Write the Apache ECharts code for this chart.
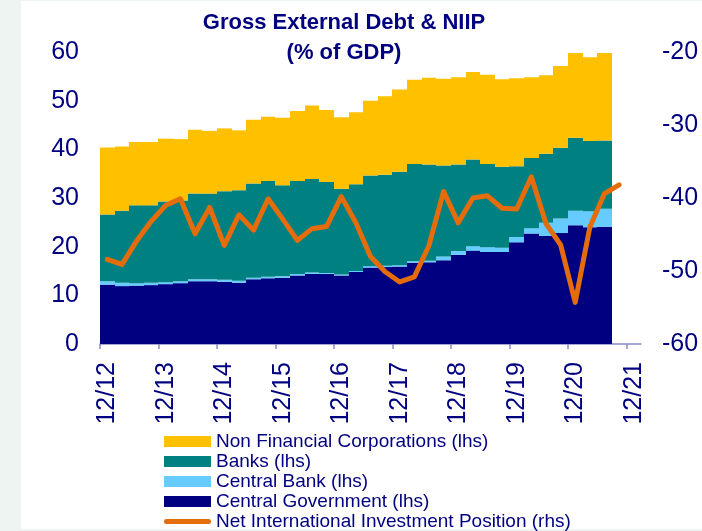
<!DOCTYPE html>
<html>
<head>
<meta charset="utf-8">
<script src="https://cdn.jsdelivr.net/npm/echarts@6/dist/echarts.min.js"></script>
<style>
html, body { margin: 0; padding: 0; background: #eef4f2; }
#chart { width: 702px; height: 531px; }
</style>
</head>
<body>
<div id="chart"></div>
<script>
// quarters on the x axis (12/12 .. 12/21)
const quarters = [
  '12/12', '3/13', '6/13', '9/13', '12/13', '3/14', '6/14', '9/14', '12/14',
  '3/15', '6/15', '9/15', '12/15', '3/16', '6/16', '9/16', '12/16',
  '3/17', '6/17', '9/17', '12/17', '3/18', '6/18', '9/18', '12/18',
  '3/19', '6/19', '9/19', '12/19', '3/20', '6/20', '9/20', '12/20',
  '3/21', '6/21', '9/21', '12/21'
]
const tickPositions = [0, 4, 8, 12, 16, 20, 24, 28, 32, 36]

// % of GDP, lhs
const centralGov = [12.2, 11.9, 12.0, 12.1, 12.3, 12.5, 12.9, 12.9, 12.8, 12.6, 13.3, 13.5, 13.6, 14.1, 14.4, 14.4, 14.1, 14.8,
  15.7, 15.8, 15.9, 16.7, 16.8, 17.2, 18.3, 19.2, 18.9, 18.9, 20.9, 22.7, 22.2, 22.8, 24.4, 24.0, 24.1]
const centralBank = [0.7, 0.7, 0.5, 0.5, 0.4, 0.4, 0.4, 0.4, 0.4, 0.4, 0.3, 0.3, 0.3, 0.3, 0.3, 0.2, 0.2, 0.2,
  0.3, 0.3, 0.3, 0.3, 0.3, 0.8, 0.8, 0.9, 1.0, 0.9, 1.1, 1.1, 2.7, 3.0, 3.0, 3.3, 3.7]
const banks = [13.7, 14.8, 16.0, 15.9, 16.6, 16.6, 17.6, 17.6, 18.2, 18.6, 19.4, 19.7, 18.7, 19.1, 19.2, 18.7, 17.6, 17.8,
  18.6, 18.7, 19.2, 20.0, 19.8, 18.7, 17.8, 17.8, 17.1, 16.6, 14.5, 14.4, 14.2, 14.5, 15.0, 14.4, 14.0]
const nonFinCorp = [13.8, 13.2, 13.0, 13.0, 12.9, 12.6, 13.1, 12.9, 12.9, 12.3, 13.1, 13.2, 13.9, 14.4, 15.1, 14.8, 14.7, 14.8,
  15.4, 16.1, 16.9, 17.3, 17.8, 17.8, 17.9, 18.0, 18.3, 18.0, 18.1, 16.6, 16.1, 16.8, 17.4, 17.2, 18.0]

// % of GDP, rhs
const niip = [-48.4, -49.1, -45.9, -43.2, -41.0, -40.1, -44.9, -41.3, -46.5, -42.3, -44.4, -40.1, -42.9, -45.8, -44.2, -43.9,
  -39.8, -43.4, -48.0, -50.1, -51.5, -50.8, -46.5, -39.1, -43.4, -40.0, -39.7, -41.4, -41.5, -37.1, -43.5, -46.4,
  -54.3, -44.0, -39.4, -38.2]

const navy = '#000080'
const axisColor = '#8a8ac8'
const orange = '#e46c0a'

// running bottoms of the stack
const zeros = centralGov.map(() => 0)
const addUp = (a, b) => a.map((v, i) => v + b[i])
const baseBank = addUp(centralGov, centralBank)
const baseNfc = addUp(baseBank, banks)

const chart = echarts.init(document.getElementById('chart'))

// stacked bars drawn edge to edge (bar series leave hairline gaps at 0% gap)
const stackLayer = (name, values, below, color) => ({
  name: name,
  type: 'custom',
  itemStyle: { color: color },
  encode: { x: 0, y: [1, 2] },
  data: values.map((v, i) => [i, below[i], below[i] + v]),
  renderItem: (params, api) => {
    const bottom = api.coord([api.value(0), api.value(1)])
    const top = api.coord([api.value(0), api.value(2)])
    const w = api.size([1, 0])[0]
    const x0 = Math.round(bottom[0] - w / 2)
    const x1 = Math.round(bottom[0] + w / 2)
    return {
      type: 'rect',
      shape: { x: x0, y: top[1], width: x1 - x0, height: bottom[1] - top[1] },
      style: { fill: color }
    }
  }
})

chart.setOption({
  animation: false,
  backgroundColor: '#eef4f2',
  graphic: [{
    type: 'rect',
    z: -1,
    shape: { x: 21, y: 1, width: 681, height: 528 },
    style: { fill: '#ffffff' }
  }, {
    // chart title
    type: 'text',
    x: 344,
    y: 8,
    style: {
      text: 'Gross External Debt & NIIP\n(% of GDP)',
      textAlign: 'center',
      textVerticalAlign: 'top',
      fill: navy,
      font: 'bold 22px "Liberation Sans"',
      lineHeight: 30
    }
  }],
  legend: {
    orient: 'vertical',
    left: 159,
    top: 427,
    height: 120,
    icon: 'rect',
    itemWidth: 47,
    itemHeight: 11,
    itemGap: 1,
    textStyle: { color: navy, fontSize: 19, fontFamily: 'Liberation Sans' },
    data: ['Non Financial Corporations (lhs)', 'Banks (lhs)', 'Central Bank (lhs)', 'Central Government (lhs)', {
      name: 'Net International Investment Position (rhs)',
      icon: 'path://M2.5,0H44.5A2.5,2.5,0,0,1,44.5,5H2.5A2.5,2.5,0,0,1,2.5,0Z'
    }]
  },
  grid: { left: 100, right: 61, top: 52, bottom: 187 },
  xAxis: [{
    type: 'category',
    data: quarters,
    boundaryGap: true,
    axisLine: { lineStyle: { color: axisColor, width: 1.5 } },
    axisTick: { show: false },
    splitLine: { show: false },
    axisLabel: {
      interval: 3, rotate: 90, margin: 18,
      color: navy, fontSize: 25, fontFamily: 'Liberation Sans'
    }
  }, {
    type: 'value',
    min: 0,
    max: quarters.length,
    position: 'bottom',
    axisLine: { show: false },
    axisLabel: { show: false },
    splitLine: { show: false },
    axisTick: { show: true, length: 5, customValues: tickPositions, lineStyle: { color: axisColor, width: 1.5 } }
  }],
  yAxis: [{
    type: 'value',
    min: 0, max: 60, interval: 10,
    axisLine: { show: false },
    axisTick: { show: false },
    splitLine: { show: false },
    axisLabel: { margin: 21, color: navy, fontSize: 25, fontFamily: 'Liberation Sans' }
  }, {
    type: 'value',
    position: 'right',
    min: -60, max: -20, interval: 10,
    axisLine: { show: false },
    axisTick: { show: false },
    splitLine: { show: false },
    axisLabel: { margin: 21, color: navy, fontSize: 25, fontFamily: 'Liberation Sans' }
  }],
  series: [
    stackLayer('Central Government (lhs)', centralGov, zeros, '#000080'),
    stackLayer('Central Bank (lhs)', centralBank, baseBank.map((v, i) => centralGov[i]), '#66ccff'),
    stackLayer('Banks (lhs)', banks, baseBank, '#008080'),
    stackLayer('Non Financial Corporations (lhs)', nonFinCorp, baseNfc, '#ffc000'),
    {
      name: 'Net International Investment Position (rhs)',
      type: 'line',
      yAxisIndex: 1,
      data: niip,
      symbol: 'none',
      z: 5,
      lineStyle: { color: orange, width: 5, cap: 'round', join: 'round' },
      itemStyle: { color: orange },
      emphasis: { disabled: true }
    }
  ]
})
</script>
</body>
</html>
